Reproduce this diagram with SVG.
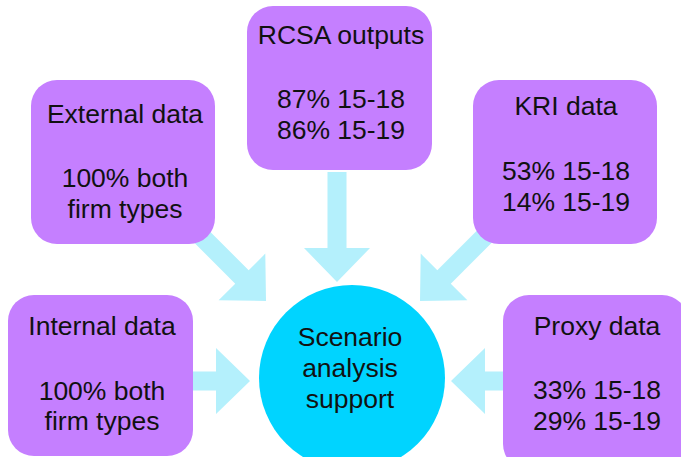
<svg xmlns="http://www.w3.org/2000/svg" width="681" height="457" viewBox="0 0 681 457">
  <defs>
    <style>
      .box { fill: #c57fff; }
      .hub { fill: #00d4ff; }
      .arrow { fill: #b4f0fc; }
      text { font-family: "Liberation Sans", Arial, sans-serif; font-size: 26.5px; fill: #111111; text-anchor: middle; }
    </style>
    <!-- block arrow pointing along +x, tip at origin -->
    <path id="blk" d="M-110,-9.5 H-34 V-33 L0,0 L-34,33 V9.5 H-110 Z"/>
  </defs>

  <rect width="681" height="457" fill="#ffffff"/>

  <g id="connectors" class="arrow">
    <use href="#blk" transform="translate(337,277) rotate(90) translate(5,0)"/>
    <use href="#blk" transform="translate(266,301) rotate(45)"/>
    <use href="#blk" transform="translate(420,301) rotate(135)"/>
    <use href="#blk" transform="translate(250,381)"/>
    <use href="#blk" transform="translate(451,381) rotate(180)"/>
  </g>

  <g id="external">
    <rect class="box" x="31" y="80" width="184" height="164" rx="26"/>
    <text x="125" y="123">External data</text>
    <text x="125" y="187">100% both</text>
    <text x="125" y="218">firm types</text>
  </g>

  <g id="rcsa">
    <rect class="box" x="247" y="6" width="185" height="164" rx="26"/>
    <text x="341" y="44">RCSA outputs</text>
    <text x="341" y="108">87% 15-18</text>
    <text x="341" y="139">86% 15-19</text>
  </g>

  <g id="kri">
    <rect class="box" x="473" y="80" width="184" height="164" rx="26"/>
    <text x="566" y="115">KRI data</text>
    <text x="566" y="180">53% 15-18</text>
    <text x="566" y="211">14% 15-19</text>
  </g>

  <g id="internal">
    <rect class="box" x="8" y="295" width="185" height="161" rx="26"/>
    <text x="102" y="335">Internal data</text>
    <text x="102" y="400">100% both</text>
    <text x="102" y="430">firm types</text>
  </g>

  <g id="proxy">
    <rect class="box" x="503" y="295" width="185" height="175" rx="26"/>
    <text x="597" y="335">Proxy data</text>
    <text x="597" y="399">33% 15-18</text>
    <text x="597" y="430">29% 15-19</text>
  </g>

  <g id="scenario">
    <circle class="hub" cx="352" cy="378" r="93"/>
    <text x="350" y="346">Scenario</text>
    <text x="350" y="377">analysis</text>
    <text x="350" y="408">support</text>
  </g>
</svg>
